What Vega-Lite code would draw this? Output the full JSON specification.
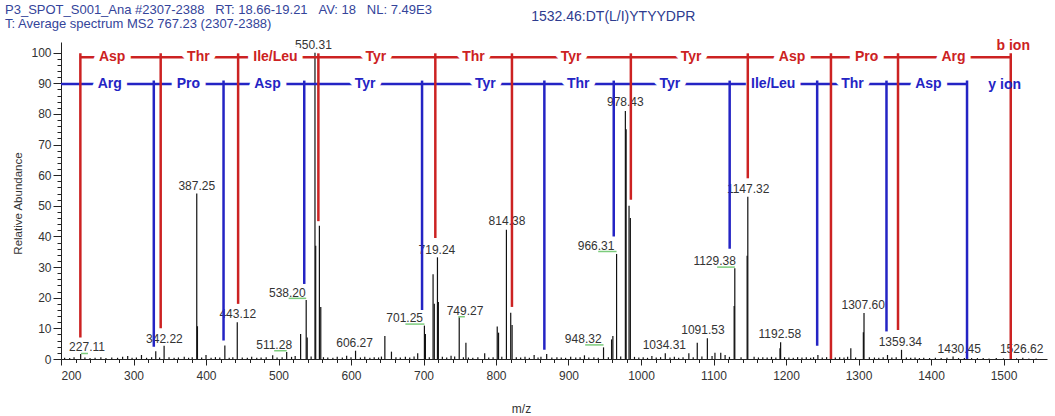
{
  "$schema": "https://vega.github.io/schema/vega-lite/v6.json",
  "width": 986,
  "height": 317,
  "autosize": {"type": "none"},
  "padding": {"left": 61, "top": 42, "right": 8, "bottom": 57},
  "config": {"view": {"stroke": null}, "font": "Liberation Sans"},
  "title": {
    "text": ["P3_SPOT_S001_Ana #2307-2388\u00a0\u00a0\u00a0RT: 18.66-19.21\u00a0\u00a0\u00a0AV: 18\u00a0\u00a0\u00a0NL: 7.49E3", "T: Average spectrum MS2 767.23 (2307-2388)"],
    "anchor": "start",
    "frame": "group",
    "orient": "top",
    "fontSize": 13,
    "fontWeight": "normal",
    "font": "Liberation Sans",
    "color": "#34449a",
    "lineHeight": 14,
    "baseline": "bottom",
    "dx": -56,
    "dy": 47,
    "offset": 13
  },
  "datasets": {
    "peaks": [
      {"mz": 205, "i": 0.4}, {"mz": 212, "i": 0.3}, {"mz": 218, "i": 0.6}, {"mz": 227.11, "i": 1.6}, {"mz": 233, "i": 0.5}, {"mz": 240, "i": 0.3}, {"mz": 247, "i": 0.4}, {"mz": 255, "i": 0.6}, {"mz": 262, "i": 0.3}, {"mz": 270, "i": 0.5}, {"mz": 278, "i": 0.4}, {"mz": 285, "i": 0.7}, {"mz": 292, "i": 1.0}, {"mz": 298, "i": 0.4}, {"mz": 304, "i": 0.5}, {"mz": 311, "i": 1.3}, {"mz": 318, "i": 0.4}, {"mz": 325, "i": 0.6}, {"mz": 330.7, "i": 2.5}, {"mz": 336, "i": 0.5}, {"mz": 342.22, "i": 4.3}, {"mz": 349, "i": 0.6}, {"mz": 356, "i": 0.4}, {"mz": 362, "i": 0.5}, {"mz": 370, "i": 0.7}, {"mz": 376, "i": 0.4}, {"mz": 381, "i": 0.6},
      {"mz": 387.25, "i": 54}, {"mz": 388.2, "i": 10.7}, {"mz": 394, "i": 0.5}, {"mz": 400, "i": 1.3}, {"mz": 407, "i": 0.4}, {"mz": 413, "i": 0.6}, {"mz": 419, "i": 0.5}, {"mz": 426, "i": 4.4}, {"mz": 432, "i": 0.4}, {"mz": 437, "i": 0.6}, {"mz": 443.12, "i": 12}, {"mz": 450, "i": 0.5}, {"mz": 457, "i": 0.4}, {"mz": 463, "i": 0.7}, {"mz": 470, "i": 0.4}, {"mz": 476, "i": 0.5}, {"mz": 483, "i": 0.6}, {"mz": 492, "i": 1.2}, {"mz": 498, "i": 0.5}, {"mz": 505, "i": 0.6}, {"mz": 511.28, "i": 2.3}, {"mz": 518, "i": 0.7}, {"mz": 523, "i": 1.0}, {"mz": 530.5, "i": 8.2}, {"mz": 538.2, "i": 19.3}, {"mz": 539.6, "i": 7}, {"mz": 545, "i": 0.8},
      {"mz": 550.31, "i": 100}, {"mz": 551.3, "i": 37}, {"mz": 556.4, "i": 43.5}, {"mz": 558.3, "i": 17}, {"mz": 562, "i": 0.6}, {"mz": 568, "i": 0.5}, {"mz": 575, "i": 0.4}, {"mz": 581, "i": 0.7}, {"mz": 588, "i": 0.5}, {"mz": 594, "i": 1.1}, {"mz": 600, "i": 0.6}, {"mz": 606.27, "i": 2.7}, {"mz": 613, "i": 0.5}, {"mz": 619, "i": 0.7}, {"mz": 626, "i": 0.4}, {"mz": 632, "i": 0.6}, {"mz": 638, "i": 0.5}, {"mz": 642, "i": 0.8}, {"mz": 646.7, "i": 7.5}, {"mz": 655.8, "i": 2.4}, {"mz": 662, "i": 0.6}, {"mz": 668, "i": 0.5}, {"mz": 675, "i": 0.7}, {"mz": 681, "i": 0.5}, {"mz": 687, "i": 0.8}, {"mz": 692, "i": 1.9},
      {"mz": 701.25, "i": 10.9}, {"mz": 702.6, "i": 8.2}, {"mz": 708, "i": 0.6}, {"mz": 713.2, "i": 27.7}, {"mz": 714.9, "i": 18}, {"mz": 719.24, "i": 33.2}, {"mz": 720.5, "i": 18.6}, {"mz": 726, "i": 0.7}, {"mz": 732, "i": 0.5}, {"mz": 738, "i": 1.1}, {"mz": 743, "i": 0.8}, {"mz": 749.27, "i": 13.6}, {"mz": 755, "i": 0.6}, {"mz": 758.5, "i": 5.3}, {"mz": 762, "i": 0.5}, {"mz": 768, "i": 0.4}, {"mz": 775, "i": 0.6}, {"mz": 784.4, "i": 1.9}, {"mz": 790, "i": 0.5}, {"mz": 796, "i": 0.6}, {"mz": 801.7, "i": 10.6}, {"mz": 803.5, "i": 8.6}, {"mz": 808, "i": 0.7}, {"mz": 814.38, "i": 42.2}, {"mz": 820.3, "i": 15.1}, {"mz": 822.2, "i": 11.1}, {"mz": 828, "i": 0.6}, {"mz": 834, "i": 0.5}, {"mz": 840, "i": 0.7}, {"mz": 846, "i": 0.4}, {"mz": 852.6, "i": 1.3}, {"mz": 858, "i": 0.5}, {"mz": 862, "i": 0.7}, {"mz": 869.9, "i": 1.6}, {"mz": 877, "i": 0.5}, {"mz": 884, "i": 0.6}, {"mz": 890, "i": 0.5}, {"mz": 896, "i": 0.4}, {"mz": 903, "i": 0.7}, {"mz": 910, "i": 0.5}, {"mz": 916, "i": 0.6}, {"mz": 922, "i": 1.2}, {"mz": 928, "i": 0.5}, {"mz": 935, "i": 0.6}, {"mz": 941, "i": 0.4},
      {"mz": 948.32, "i": 3.8}, {"mz": 955, "i": 0.6}, {"mz": 959.4, "i": 6.4}, {"mz": 961.2, "i": 7.5}, {"mz": 966.31, "i": 34.3}, {"mz": 972, "i": 0.8}, {"mz": 978.43, "i": 81}, {"mz": 979.5, "i": 75}, {"mz": 983.5, "i": 50}, {"mz": 985.3, "i": 46}, {"mz": 991, "i": 0.7}, {"mz": 997, "i": 0.5}, {"mz": 1003, "i": 0.6}, {"mz": 1009, "i": 0.4}, {"mz": 1015, "i": 1.0}, {"mz": 1021, "i": 0.5}, {"mz": 1027, "i": 0.6}, {"mz": 1033.5, "i": 1.9}, {"mz": 1040, "i": 0.5}, {"mz": 1046, "i": 0.7}, {"mz": 1052, "i": 0.4}, {"mz": 1058, "i": 0.6}, {"mz": 1066, "i": 1.9}, {"mz": 1072, "i": 0.6}, {"mz": 1077.6, "i": 5.3}, {"mz": 1084, "i": 0.8}, {"mz": 1091.53, "i": 6.8}, {"mz": 1098, "i": 1.0}, {"mz": 1102, "i": 2.0}, {"mz": 1110, "i": 2.0}, {"mz": 1116, "i": 1.3}, {"mz": 1122, "i": 0.7},
      {"mz": 1128.5, "i": 17.3}, {"mz": 1129.38, "i": 29.6}, {"mz": 1138, "i": 0.6}, {"mz": 1146.4, "i": 33.7}, {"mz": 1147.32, "i": 53}, {"mz": 1156, "i": 0.7}, {"mz": 1162, "i": 0.5}, {"mz": 1168, "i": 0.6}, {"mz": 1174, "i": 0.5}, {"mz": 1180, "i": 0.7}, {"mz": 1186, "i": 0.5}, {"mz": 1191.7, "i": 3.5}, {"mz": 1192.58, "i": 5.5}, {"mz": 1198, "i": 0.6}, {"mz": 1204, "i": 0.5}, {"mz": 1210, "i": 0.4}, {"mz": 1216, "i": 0.6}, {"mz": 1222, "i": 0.5}, {"mz": 1228, "i": 0.6}, {"mz": 1234, "i": 0.4}, {"mz": 1238, "i": 0.6}, {"mz": 1244, "i": 1.3}, {"mz": 1250, "i": 0.5}, {"mz": 1256, "i": 0.6}, {"mz": 1268, "i": 0.5}, {"mz": 1274, "i": 0.6}, {"mz": 1280, "i": 0.5}, {"mz": 1285, "i": 0.7}, {"mz": 1289.4, "i": 3.5}, {"mz": 1296, "i": 0.5}, {"mz": 1306.7, "i": 8.7}, {"mz": 1307.6, "i": 15}, {"mz": 1315, "i": 0.6}, {"mz": 1322, "i": 0.5}, {"mz": 1328, "i": 0.4}, {"mz": 1334, "i": 0.6}, {"mz": 1340, "i": 1.3}, {"mz": 1346, "i": 0.5}, {"mz": 1352, "i": 0.6}, {"mz": 1359.34, "i": 3}, {"mz": 1366, "i": 0.5}, {"mz": 1372, "i": 0.4}, {"mz": 1378, "i": 0.5}, {"mz": 1384, "i": 0.3}, {"mz": 1390, "i": 0.4}, {"mz": 1398, "i": 0.3}, {"mz": 1406, "i": 0.4}, {"mz": 1414, "i": 0.3}, {"mz": 1422, "i": 0.4}, {"mz": 1430.45, "i": 0.8}, {"mz": 1438, "i": 0.3}, {"mz": 1446, "i": 0.3}, {"mz": 1456, "i": 0.3}, {"mz": 1464, "i": 0.3}, {"mz": 1472, "i": 0.3}, {"mz": 1480, "i": 0.2}, {"mz": 1490, "i": 0.3}, {"mz": 1500, "i": 0.2}, {"mz": 1518, "i": 0.2}, {"mz": 1526.62, "i": 0.4}, {"mz": 1535, "i": 0.2}, {"mz": 1545, "i": 0.2}
    ],
    "peaklabels": [
      {"lx": 235.9, "ly": 4.0, "t": "227.11"}, {"lx": 342.6, "ly": 6.5, "t": "342.22"}, {"lx": 387.25, "ly": 56.5, "t": "387.25"}, {"lx": 443.8, "ly": 14.7, "t": "443.12"}, {"lx": 494, "ly": 4.6, "t": "511.28"}, {"lx": 512.2, "ly": 21.6, "t": "538.20"}, {"lx": 548.2, "ly": 102.6, "t": "550.31"}, {"lx": 604.9, "ly": 5.3, "t": "606.27"}, {"lx": 674, "ly": 13.5, "t": "701.25"}, {"lx": 718.5, "ly": 35.6, "t": "719.24"}, {"lx": 757.2, "ly": 15.7, "t": "749.27"}, {"lx": 815.1, "ly": 44.9, "t": "814.38"}, {"lx": 920.3, "ly": 6.4, "t": "948.32"}, {"lx": 938, "ly": 37, "t": "966.31"}, {"lx": 978.4, "ly": 83.9, "t": "978.43"}, {"lx": 1032.2, "ly": 4.6, "t": "1034.31"}, {"lx": 1085.4, "ly": 9.5, "t": "1091.53"}, {"lx": 1101.6, "ly": 32, "t": "1129.38"}, {"lx": 1147.8, "ly": 55.4, "t": "1147.32"}, {"lx": 1191.5, "ly": 8.2, "t": "1192.58"}, {"lx": 1306.5, "ly": 17.6, "t": "1307.60"}, {"lx": 1357.7, "ly": 5.7, "t": "1359.34"}, {"lx": 1439, "ly": 3.2, "t": "1430.45"}, {"lx": 1525, "ly": 3.2, "t": "1526.62"}
    ],
    "greens": [
      {"g1": 227.6, "g2": 237.2, "gy": 1.8}, {"g1": 494, "g2": 511.3, "gy": 2.7}, {"g1": 514, "g2": 538.2, "gy": 19.8}, {"g1": 675, "g2": 701.25, "gy": 11.4}, {"g1": 748, "g2": 757, "gy": 13.8}, {"g1": 923, "g2": 948.3, "gy": 4.6}, {"g1": 941, "g2": 966.3, "gy": 35.1}, {"g1": 1105, "g2": 1129.4, "gy": 30}
    ],
    "ionv": [
      {"s": "b", "mz": 226.7, "lo": 7, "hi": 99.8}, {"s": "b", "mz": 337.5, "lo": 10, "hi": 99.8}, {"s": "b", "mz": 444.3, "lo": 18, "hi": 99.8}, {"s": "b", "mz": 555, "lo": 45, "hi": 99.8}, {"s": "b", "mz": 716.3, "lo": 39.5, "hi": 99.8}, {"s": "b", "mz": 822, "lo": 17, "hi": 99.8}, {"s": "b", "mz": 986, "lo": 52, "hi": 99.8}, {"s": "b", "mz": 1147.3, "lo": 59, "hi": 99.8}, {"s": "b", "mz": 1262, "lo": 0, "hi": 99.8}, {"s": "b", "mz": 1354.5, "lo": 9.5, "hi": 99.8}, {"s": "b", "mz": 1510, "lo": 0, "hi": 99.8},
      {"s": "y", "mz": 328, "lo": 4, "hi": 90.9}, {"s": "y", "mz": 424.2, "lo": 6, "hi": 90.9}, {"s": "y", "mz": 535.5, "lo": 24.5, "hi": 90.9}, {"s": "y", "mz": 698, "lo": 16, "hi": 90.9}, {"s": "y", "mz": 866.7, "lo": 3, "hi": 90.9}, {"s": "y", "mz": 962.4, "lo": 40, "hi": 90.9}, {"s": "y", "mz": 1122.3, "lo": 36, "hi": 90.9}, {"s": "y", "mz": 1243, "lo": 4.3, "hi": 90.9}, {"s": "y", "mz": 1338.6, "lo": 9, "hi": 90.9}, {"s": "y", "mz": 1449.7, "lo": 0, "hi": 90.9}
    ],
    "ionh": [
      {"s": "b", "x1": 226.7, "x2": 1510, "lv": 98.5},
      {"s": "y", "x1": 200, "x2": 1449.7, "lv": 89.8}
    ],
    "ionlab": [
      {"s": "b", "x": 270.5, "lv": 98.5, "t": "Asp"}, {"s": "b", "x": 389.5, "lv": 98.5, "t": "Thr"}, {"s": "b", "x": 495.8, "lv": 98.5, "t": "Ile/Leu"}, {"s": "b", "x": 634.4, "lv": 98.5, "t": "Tyr"}, {"s": "b", "x": 769, "lv": 98.5, "t": "Thr"}, {"s": "b", "x": 903.5, "lv": 98.5, "t": "Tyr"}, {"s": "b", "x": 1069.2, "lv": 98.5, "t": "Tyr"}, {"s": "b", "x": 1208.3, "lv": 98.5, "t": "Asp"}, {"s": "b", "x": 1311.3, "lv": 98.5, "t": "Pro"}, {"s": "b", "x": 1431, "lv": 98.5, "t": "Arg"},
      {"s": "y", "x": 267.3, "lv": 89.8, "t": "Arg"}, {"s": "y", "x": 375.8, "lv": 89.8, "t": "Pro"}, {"s": "y", "x": 484.8, "lv": 89.8, "t": "Asp"}, {"s": "y", "x": 619.4, "lv": 89.8, "t": "Tyr"}, {"s": "y", "x": 785.3, "lv": 89.8, "t": "Tyr"}, {"s": "y", "x": 913.5, "lv": 89.8, "t": "Thr"}, {"s": "y", "x": 1039.9, "lv": 89.8, "t": "Tyr"}, {"s": "y", "x": 1182.4, "lv": 89.8, "t": "Ile/Leu"}, {"s": "y", "x": 1291.7, "lv": 89.8, "t": "Thr"}, {"s": "y", "x": 1396.4, "lv": 89.8, "t": "Asp"}
    ],
    "ionhead": [
      {"s": "b", "x": 1513.4, "lv": 102.2, "t": "b ion"},
      {"s": "y", "x": 1501.6, "lv": 89.6, "t": "y ion"}
    ],
    "header": [
      {"x": 961.8, "y": 111.8, "t": "1532.46:DT(L/I)YTYYDPR"}
    ]
  },
  "resolve": {"axis": {"x": "independent", "y": "independent"}},
  "layer": [
    {
      "data": {"name": "peaks"},
      "mark": {"type": "rule", "color": "#111111", "strokeWidth": 1.2},
      "encoding": {
        "x": {"field": "mz", "type": "quantitative", "scale": {"domain": [200, 1560], "nice": false, "zero": false},
          "axis": {"orient": "bottom", "values": [200, 300, 400, 500, 600, 700, 800, 900, 1000, 1100, 1200, 1300, 1400, 1500], "format": "d", "grid": false, "tickSize": 6, "tickColor": "#222", "domainColor": "#222", "labelColor": "#333", "labelFontSize": 12, "labelFont": "Liberation Sans", "labelPadding": 5, "title": "m/z", "titleFontSize": 12, "titleFontWeight": "normal", "titleColor": "#333", "titleX": 460, "titleY": 49, "titleBaseline": "middle", "titleAlign": "center"}},
        "y": {"field": "i", "type": "quantitative", "scale": {"domain": [0, 103.5], "nice": false, "zero": false},
          "axis": {"orient": "left", "values": [0, 10, 20, 30, 40, 50, 60, 70, 80, 90, 100], "format": "d", "grid": false, "tickSize": 8, "tickColor": "#222", "domainColor": "#222", "labelColor": "#333", "labelFontSize": 12, "labelFont": "Liberation Sans", "labelPadding": 2, "title": "Relative Abundance", "titleFontSize": 11.5, "titleFontWeight": "normal", "titleColor": "#333", "titleX": -43, "titleY": 161, "titleAngle": -90, "titleBaseline": "middle", "titleAlign": "center"}},
        "y2": {"datum": 0}
      }
    },
    {
      "data": {"name": "peaks"},
      "mark": {"type": "rule", "opacity": 0},
      "encoding": {
        "x": {"field": "mz", "type": "quantitative", "scale": {"domain": [200, 1560], "nice": false, "zero": false},
          "axis": {"orient": "bottom", "values": [220, 240, 260, 280, 320, 340, 360, 380, 420, 440, 460, 480, 520, 540, 560, 580, 620, 640, 660, 680, 720, 740, 760, 780, 820, 840, 860, 880, 920, 940, 960, 980, 1020, 1040, 1060, 1080, 1120, 1140, 1160, 1180, 1220, 1240, 1260, 1280, 1320, 1340, 1360, 1380, 1420, 1440, 1460, 1480, 1520, 1540], "grid": false, "labels": false, "domain": false, "tickSize": 3.5, "tickColor": "#222", "title": null}},
        "y": {"field": "i", "type": "quantitative", "scale": {"domain": [0, 103.5], "nice": false, "zero": false},
          "axis": {"orient": "left", "values": [2, 4, 6, 8, 12, 14, 16, 18, 22, 24, 26, 28, 32, 34, 36, 38, 42, 44, 46, 48, 52, 54, 56, 58, 62, 64, 66, 68, 72, 74, 76, 78, 82, 84, 86, 88, 92, 94, 96, 98], "grid": false, "labels": false, "domain": false, "tickSize": 4, "tickColor": "#222", "title": null}}
      }
    },
    {
      "data": {"name": "peaklabels"},
      "mark": {"type": "text", "fontSize": 12, "color": "#333333", "baseline": "middle", "align": "center", "font": "Liberation Sans"},
      "encoding": {
        "x": {"field": "lx", "type": "quantitative", "scale": {"domain": [200, 1560], "nice": false, "zero": false}, "axis": null},
        "y": {"field": "ly", "type": "quantitative", "scale": {"domain": [0, 103.5], "nice": false, "zero": false}, "axis": null},
        "text": {"field": "t"}
      }
    },
    {
      "data": {"name": "greens"},
      "mark": {"type": "rule", "color": "#7ccc7c", "strokeWidth": 1.5},
      "encoding": {
        "x": {"field": "g1", "type": "quantitative", "scale": {"domain": [200, 1560], "nice": false, "zero": false}, "axis": null},
        "x2": {"field": "g2"},
        "y": {"field": "gy", "type": "quantitative", "scale": {"domain": [0, 103.5], "nice": false, "zero": false}, "axis": null}
      }
    },
    {
      "data": {"name": "ionh"},
      "mark": {"type": "rule", "strokeWidth": 2.5},
      "encoding": {
        "x": {"field": "x1", "type": "quantitative", "scale": {"domain": [200, 1560], "nice": false, "zero": false}, "axis": null},
        "x2": {"field": "x2"},
        "y": {"field": "lv", "type": "quantitative", "scale": {"domain": [0, 103.5], "nice": false, "zero": false}, "axis": null},
        "color": {"field": "s", "type": "nominal", "scale": {"domain": ["b", "y"], "range": ["#cc2222", "#2424c4"]}, "legend": null}
      }
    },
    {
      "data": {"name": "ionlab"},
      "mark": {"type": "text", "fontSize": 14, "fontWeight": "bold", "fill": "white", "stroke": "white", "strokeWidth": 12, "strokeJoin": "round", "baseline": "middle", "align": "center", "font": "Liberation Sans"},
      "encoding": {
        "x": {"field": "x", "type": "quantitative", "scale": {"domain": [200, 1560], "nice": false, "zero": false}, "axis": null},
        "y": {"field": "lv", "type": "quantitative", "scale": {"domain": [0, 103.5], "nice": false, "zero": false}, "axis": null},
        "text": {"field": "t"}
      }
    },
    {
      "data": {"name": "ionv"},
      "mark": {"type": "rule", "strokeWidth": 2.5},
      "encoding": {
        "x": {"field": "mz", "type": "quantitative", "scale": {"domain": [200, 1560], "nice": false, "zero": false}, "axis": null},
        "y": {"field": "lo", "type": "quantitative", "scale": {"domain": [0, 103.5], "nice": false, "zero": false}, "axis": null},
        "y2": {"field": "hi"},
        "color": {"field": "s", "type": "nominal", "scale": {"domain": ["b", "y"], "range": ["#cc2222", "#2424c4"]}, "legend": null}
      }
    },
    {
      "data": {"name": "ionlab"},
      "mark": {"type": "text", "fontSize": 14, "fontWeight": "bold", "baseline": "middle", "align": "center", "font": "Liberation Sans"},
      "encoding": {
        "x": {"field": "x", "type": "quantitative", "scale": {"domain": [200, 1560], "nice": false, "zero": false}, "axis": null},
        "y": {"field": "lv", "type": "quantitative", "scale": {"domain": [0, 103.5], "nice": false, "zero": false}, "axis": null},
        "text": {"field": "t"},
        "color": {"field": "s", "type": "nominal", "scale": {"domain": ["b", "y"], "range": ["#cc2222", "#2424c4"]}, "legend": null}
      }
    },
    {
      "data": {"name": "ionhead"},
      "mark": {"type": "text", "fontSize": 14, "fontWeight": "bold", "baseline": "middle", "align": "center", "font": "Liberation Sans"},
      "encoding": {
        "x": {"field": "x", "type": "quantitative", "scale": {"domain": [200, 1560], "nice": false, "zero": false}, "axis": null},
        "y": {"field": "lv", "type": "quantitative", "scale": {"domain": [0, 103.5], "nice": false, "zero": false}, "axis": null},
        "text": {"field": "t"},
        "color": {"field": "s", "type": "nominal", "scale": {"domain": ["b", "y"], "range": ["#cc2222", "#2424c4"]}, "legend": null}
      }
    },
    {
      "data": {"name": "header"},
      "mark": {"type": "text", "fontSize": 14, "color": "#2e3b8f", "baseline": "middle", "align": "center", "font": "Liberation Sans"},
      "encoding": {
        "x": {"field": "x", "type": "quantitative", "scale": {"domain": [200, 1560], "nice": false, "zero": false}, "axis": null},
        "y": {"field": "y", "type": "quantitative", "scale": {"domain": [0, 103.5], "nice": false, "zero": false}, "axis": null},
        "text": {"field": "t"}
      }
    }
  ]
}
